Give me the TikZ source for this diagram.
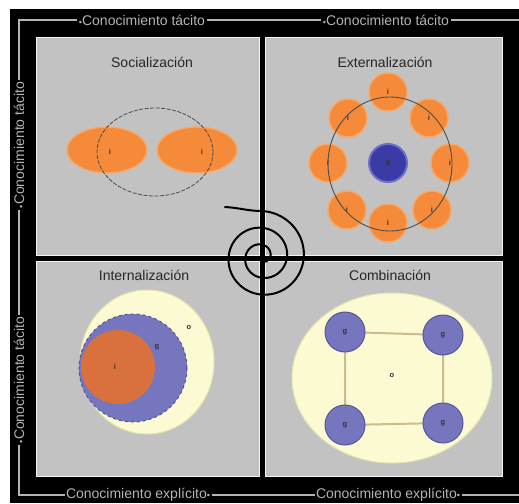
\documentclass[tikz,border=0pt]{standalone}
\usepackage{fontspec}
\setmainfont{Liberation Sans}
\definecolor{pgray}{HTML}{C2C2C2}
\definecolor{lgray}{HTML}{B4B4B4}
\definecolor{orng}{HTML}{F58A3A}
\definecolor{orngedge}{HTML}{F8A866}
\definecolor{rust}{HTML}{D9713E}
\definecolor{blu}{HTML}{7676BF}
\definecolor{bluedge}{HTML}{55559E}
\definecolor{deepblu}{HTML}{3B3BA6}
\definecolor{deepbluedge}{HTML}{6E6EC9}
\definecolor{pyellow}{HTML}{FCFAD2}
\definecolor{pyedge}{HTML}{E8E4B0}
\definecolor{tan}{HTML}{C9BD8E}
\tikzset{
  frameline/.style={draw=lgray, line width=1.6pt},
  axislabel/.style={fill=black, text=lgray, font=\fontsize{14}{14}\selectfont, inner sep=1.5pt},
  qtitle/.style={font=\fontsize{14}{14}\selectfont, text=black!85},
  tinylabel/.style={font=\fontsize{7.5}{7.5}\selectfont\bfseries, text=black!80, inner sep=0pt},
  panel/.style={fill=pgray, draw=white!92!gray, line width=1pt},
  orangeblob/.style={fill=orng, draw=orngedge, line width=1.4pt},
  blueblob/.style={fill=blu, draw=bluedge, line width=1pt},
  yellowblob/.style={fill=pyellow, draw=pyedge, line width=1pt},
  ringline/.style={draw=black!70, line width=0.8pt, dashed, dash pattern=on 4pt off 1.5pt},
  spiralline/.style={draw=black, line width=2pt, line join=round, line cap=round}
}
\newcommand{\mydot}{{\fontsize{9}{9}\selectfont •}}
\begin{document}
\begin{tikzpicture}[x=1pt,y=-1pt]
\useasboundingbox (0,0) rectangle (519,503);
\fill[white] (0,0) rectangle (519,503);
\fill[black] (10,9) rectangle (519,503);
% outer frame
\draw[frameline] (519,20) -- (19,20) -- (19,495) -- (519,495);
% axis labels
\node[axislabel] (top1) at (142,20) {\mydot Conocimiento tácito};
\node[axislabel] (top2) at (386,20) {\mydot Conocimiento tácito};
\node[axislabel] (bot1) at (138,495) {Conocimiento explícito\mydot};
\node[axislabel] (bot2) at (388,495) {Conocimiento explícito\mydot};
\node[axislabel, rotate=90] (left1) at (19,145) {\mydot Conocimiento tácito};
\node[axislabel, rotate=90] (left2) at (19,380) {\mydot Conocimiento tácito};
% panels
\draw[panel] (36,38) rectangle (259,255);
\draw[panel] (265,38) rectangle (502,255);
\draw[panel] (36,261) rectangle (259,476);
\draw[panel] (265,261) rectangle (502,476);
\draw[black, line width=2.5pt] (262,36) -- (262,478);
\draw[black, line width=2.5pt] (35,258) -- (503,258);
% titles
\node[qtitle] (soc) at (152,62) {Socialización};
\node[qtitle] (ext) at (385,62) {Externalización};
\node[qtitle] (int) at (144,275) {Internalización};
\node[qtitle] (com) at (390,275) {Combinación};
% Socializacion
\draw[orangeblob] (107,150) ellipse [x radius=40, y radius=23];
\draw[orangeblob] (197,150) ellipse [x radius=40, y radius=23];
\draw[ringline] (155,152) ellipse [x radius=58, y radius=44];
\node[tinylabel] (si1) at (110,152) {i};
\node[tinylabel] (si2) at (202,152) {i};
% Externalizacion
\foreach \px/\py [count=\k] in {388/92, 429/118, 450/163, 432/210, 388/223, 347/210, 328/163, 348/118}{
  \draw[orangeblob] (\px,\py) circle [radius=19];
  \node[tinylabel] (ei\k) at (\px,\py) {i};
}
\draw[fill=deepblu, draw=deepbluedge, line width=2pt] (388,163) circle [radius=19];
\node[tinylabel] (eg) at (388,163) {g};
\draw[draw=black!70, line width=0.9pt] (390,164) ellipse [x radius=62, y radius=67];
% Internalizacion
\draw[yellowblob] (147,362) ellipse [x radius=67, y radius=72];
\draw[blueblob, dashed] (133,368) circle [radius=54];
\fill[rust] (118,367) circle [radius=37];
\node[tinylabel] (ii) at (115,367) {i};
\node[tinylabel] (ig) at (157,347) {g};
\node[tinylabel] (io) at (189,328) {o};
% Combinacion
\draw[yellowblob] (392,378) ellipse [x radius=100, y radius=85];
\draw[tan, line width=2pt] (345,332) -- (443,335) -- (443,423) -- (345,425) -- cycle;
\foreach \px/\py [count=\k] in {345/332, 443/335, 443/423, 345/425}{
  \draw[blueblob] (\px,\py) circle [radius=20];
  \node[tinylabel] (cg\k) at (\px,\py) {g};
}
\node[tinylabel] (co) at (392,376) {o};
% spiral
\draw[spiralline] (225,207) to[out=-3,in=180] (262,211)
  -- plot[domain=270:1170, samples=220, smooth] ({262 + (46 - (\x-270)/900*42)*cos(\x)}, {257 + (46 - (\x-270)/900*42)*sin(\x)});
\end{tikzpicture}
\end{document}
